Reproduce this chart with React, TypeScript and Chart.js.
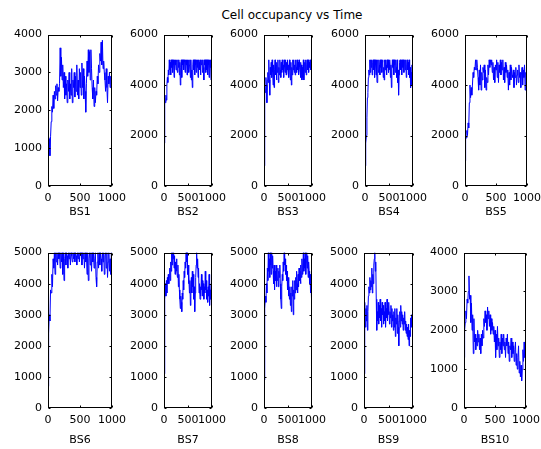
import React, { useEffect, useRef } from "react";
import { Chart, registerables } from "chart.js";

Chart.register(...registerables);

// Sample times (every 10th step of the 0..1000 simulation)
const timeSteps: number[] = Array.from({ length: 101 }, (_, i) => i * 10);

const xTicks = [0, 500, 1000];

const bs1 = [1300, 900, 1250, 800, 1300, 1700, 2100, 1950, 2400, 2050, 2500,
  2300, 2650, 2400, 2700, 2250, 2600, 2500, 2700, 3650, 2900,
  3400, 2800, 3200, 2600, 3000, 2300, 2900, 2400, 2700, 2200,
  2800, 2500, 3000, 2300, 2700, 2400, 3100, 2200, 2800, 2600,
  3000, 2350, 2900, 2500, 3200, 2400, 2800, 2300, 3100, 2600,
  3000, 2400, 3250, 2600, 3100, 2300, 2900, 2500, 1950, 2700,
  3300, 2900, 3600, 3000, 3550, 2800, 3600, 3100, 2600, 2300,
  2800, 2100, 2600, 2200, 2500, 2400, 2900, 2700, 3200, 3000,
  3500, 3300, 3800, 3200, 3850, 3100, 3300, 3000, 2800, 2500,
  3100, 2600, 2200, 2900, 2700, 3000, 2600, 2900, 2700, 3000];

const bs2 = [1700, 3300, 3500, 3300, 3600, 3400, 4000, 4300, 4100, 4600, 4400,
  5000, 4600, 4900, 4400, 5000, 4700, 5000, 4500, 5000, 4800,
  4300, 5000, 4800, 5000, 4600, 5000, 4900, 4500, 5000, 4700,
  5000, 4400, 4900, 4000, 4700, 5000, 4300, 5000, 4800, 5000,
  4600, 5000, 4900, 4500, 5000, 4800, 5000, 4400, 5000, 4700,
  5000, 4500, 4800, 5000, 4300, 5000, 4200, 4600, 3900, 4800,
  5000, 4600, 5000, 4400, 5000, 4800, 4500, 5000, 4700, 5000,
  4300, 5000, 4900, 4600, 5000, 4400, 5000, 4800, 5000, 4500,
  5000, 4700, 4200, 5000, 4800, 5000, 4500, 5000, 4600, 5000,
  4400, 5000, 4800, 4300, 5000, 4700, 5000, 4200, 4900, 4500];

const bs3 = [800, 2700, 4000, 3700, 4300, 4000, 3300, 4200, 4500, 4100, 5000,
  4200, 3600, 4700, 4400, 4900, 4300, 5000, 4500, 4000, 4800,
  3900, 4600, 5000, 4400, 4800, 4200, 4900, 4500, 5000, 4100,
  4700, 4400, 5000, 4600, 4300, 4900, 4500, 5000, 4600, 4800,
  4300, 5000, 4700, 4500, 5000, 4400, 4900, 4600, 5000, 4500,
  4800, 4300, 5000, 4600, 4200, 4900, 4000, 4700, 4400, 5000,
  4600, 5000, 4500, 4800, 4400, 5000, 4700, 4500, 5000, 4600,
  4900, 4400, 5000, 4700, 4500, 4900, 4300, 4800, 4200, 4700,
  4300, 5000, 4200, 4600, 4900, 4500, 5000, 4400, 4800, 5000,
  4600, 5000, 4500, 4900, 4700, 5000, 4600, 4900, 4800, 5000];

const bs4 = [800, 1200, 1700, 2000, 2700, 3500, 3700, 4300, 4600, 4400, 5000,
  4500, 5000, 4700, 5000, 4400, 4900, 5000, 4600, 5000, 4300,
  5000, 4800, 4400, 5000, 4100, 4700, 5000, 4500, 5000, 4800,
  4400, 5000, 4700, 5000, 4500, 4900, 5000, 4300, 4700, 4200,
  5000, 4600, 5000, 4800, 4400, 5000, 4700, 5000, 4500, 4900,
  4600, 5000, 4300, 4800, 3900, 4600, 5000, 4700, 5000, 4400,
  5000, 4800, 4500, 5000, 4700, 4300, 5000, 4100, 4600, 3600,
  4400, 4900, 5000, 4600, 5000, 4800, 4400, 5000, 4700, 5000,
  4500, 4900, 5000, 4600, 5000, 4300, 4800, 5000, 4600, 4900,
  4400, 5000, 4300, 4700, 3900, 4500, 4000, 4800, 3900, 4600];

const bs5 = [1000, 2000, 1900, 2200, 2000, 2500, 2300, 3300, 4000, 3500, 3900,
  3600, 4000, 4500, 4300, 4700, 4600, 5000, 4600, 5000, 4700,
  4300, 3800, 4600, 4000, 4800, 3800, 4500, 4200, 4700, 4500,
  4800, 3900, 4600, 3800, 4300, 4100, 4800, 4400, 5000, 4700,
  5000, 4800, 5000, 4500, 4900, 4200, 4700, 4100, 4800, 4600,
  5000, 4300, 4900, 4100, 4800, 4500, 5000, 4400, 4900, 4600,
  5000, 4200, 4700, 4100, 4900, 4500, 4800, 4300, 4600, 3800,
  4500, 4000, 4800, 4200, 4700, 4400, 4300, 4600, 3900, 4500,
  4300, 4700, 4000, 4400, 4600, 4100, 4800, 4300, 4500, 3900,
  4400, 4700, 4000, 4600, 4300, 4800, 3800, 4500, 4200, 4600];

const bs6 = [700, 2400, 3000, 2800, 3800, 3700, 4300, 3900, 4800, 4500, 5000,
  4300, 5000, 4700, 5000, 4600, 5000, 4800, 5000, 4500, 5000,
  4700, 5000, 4300, 5000, 4100, 4800, 5000, 4600, 5000, 4900,
  4500, 5000, 4800, 5000, 4600, 5000, 4900, 4700, 5000, 4800,
  5000, 4700, 5000, 4900, 4600, 5000, 4800, 5000, 4700, 5000,
  4900, 5000, 4600, 5000, 4800, 5000, 4500, 5000, 4700, 5000,
  4300, 5000, 4100, 4800, 5000, 4600, 5000, 4400, 5000, 4700,
  5000, 4500, 4800, 5000, 4200, 3900, 4700, 5000, 4500, 5000,
  4600, 5000, 4800, 4400, 5000, 4700, 5000, 4300, 4900, 5000,
  4500, 5000, 4200, 4700, 5000, 4400, 4800, 4300, 5000, 4400];

const bs7 = [1100, 2500, 3500, 4000, 3600, 4100, 3700, 4200, 4000, 4300, 4000,
  4200, 4500, 4100, 4700, 4400, 5000, 4600, 5000, 4800, 5000,
  4500, 4900, 4300, 4700, 4500, 4800, 4400, 4200, 4600, 3900,
  4300, 3800, 3500, 3200, 3600, 3400, 3100, 3700, 3500, 4100,
  3800, 4400, 4200, 4700, 4500, 5000, 4700, 5000, 4300, 4600,
  4000, 4300, 3700, 4100, 3300, 3900, 4200, 3700, 4400, 3900,
  4300, 3500, 3900, 3100, 3700, 4200, 4600, 5000, 4500, 4800,
  4200, 4500, 3700, 4000, 3500, 3900, 3600, 4300, 3800, 4100,
  3600, 4000, 3500, 3900, 3700, 4400, 3800, 4100, 3500, 3800,
  3400, 3900, 3600, 4300, 3300, 3800, 3500, 4000, 4600, 5000];

const bs8 = [900, 2000, 3200, 3600, 3400, 4000, 3700, 4500, 4100, 5000, 4400,
  4800, 4200, 5000, 4600, 4300, 5000, 4500, 4900, 4400, 4000,
  4600, 3800, 4400, 4100, 4600, 3900, 4300, 4100, 4500, 3900,
  4400, 4200, 4600, 4000, 3500, 3200, 3900, 4300, 4100, 4700,
  4400, 5000, 4600, 4800, 4300, 4600, 4100, 4400, 3800, 4200,
  3600, 4000, 3500, 3900, 3300, 3700, 3100, 3900, 3600, 4100,
  3000, 3800, 3500, 4100, 3700, 4200, 3800, 4400, 4000, 3700,
  4300, 3900, 4500, 4100, 4400, 4000, 4600, 4200, 4800, 4300,
  4600, 5000, 4400, 4800, 4500, 5000, 4300, 4700, 5000, 4500,
  4900, 4200, 4700, 4400, 4000, 4300, 3700, 4000, 3500, 3300];

const bs9 = [1100, 3000, 3400, 2600, 3200, 2800, 3300, 2500, 3100, 3600, 3900,
  3700, 4200, 3800, 4100, 3900, 4500, 3700, 4300, 4000, 4600,
  4800, 5000, 4400, 4700, 3500, 2500, 3100, 2800, 3400, 2700,
  3300, 2900, 3500, 2800, 3200, 2600, 3400, 3000, 3300, 2700,
  3100, 2800, 3400, 2600, 3200, 2900, 3500, 2800, 3300, 3000,
  3400, 2700, 3100, 2900, 3300, 2600, 3200, 2800, 3000, 2500,
  3100, 2600, 3200, 2300, 2900, 2700, 3200, 2400, 3000, 2600,
  2000, 2800, 3100, 2600, 3300, 2800, 3100, 2700, 3000, 2500,
  2900, 2700, 3100, 2500, 2800, 2400, 2700, 2300, 2600, 2200,
  2700, 2000, 2500, 2300, 2900, 2600, 3000, 2700, 3200, 2800];

const bs10 = [1300, 2000, 2200, 2500, 2300, 2800, 2700, 3000, 3400, 2800, 2900,
  2200, 2700, 2000, 2400, 1400, 2300, 1700, 1900, 1500, 1800,
  1600, 2000, 1700, 1900, 1500, 1800, 1400, 1900, 1600, 2000,
  1800, 2300, 2100, 2500, 2200, 2400, 2000, 2600, 2300, 2500,
  2100, 2400, 1900, 2300, 2000, 2200, 1900, 2100, 1700, 2000,
  1300, 1900, 1500, 2100, 1600, 1800, 1300, 1700, 1500, 1900,
  1400, 1800, 1600, 1900, 1500, 1700, 1300, 1800, 1600, 1900,
  1400, 1700, 1200, 1600, 1500, 1800, 1300, 1700, 1400, 1600,
  1200, 1500, 1700, 1100, 1400, 1000, 1300, 1600, 900, 1200,
  800, 1100, 700, 1000, 1500, 1200, 1700, 1300, 1600, 2000];

const stationNames = ["BS1", "BS2", "BS3", "BS4", "BS5", "BS6", "BS7", "BS8", "BS9", "BS10"];
const stationSeries = [bs1, bs2, bs3, bs4, bs5, bs6, bs7, bs8, bs9, bs10];
const yMaxes = [4000, 6000, 6000, 6000, 6000, 5000, 5000, 5000, 5000, 4000];
const ySteps = [1000, 2000, 2000, 2000, 2000, 1000, 1000, 1000, 1000, 1000];

const titleText = "Cell occupancy vs Time";

// Layout (plot boxes in page pixels): [left, top, right, bottom]
const boxes: [number, number, number, number][] = [
  [48, 32, 112, 186], [164, 32, 212, 186], [264, 32, 312, 186], [365, 32, 413, 186], [465, 32, 527, 186],
  [48, 250, 112, 408], [164, 250, 212, 408], [264, 250, 312, 408], [364, 250, 413, 408], [464, 250, 526, 408],
];
const labelPadBottom = [12, 12, 12, 12, 12, 6.5, 6.5, 6.5, 6.5, 6.5];

const Y_W = 46;
const PAD_T = 10;
const PAD_R = 20;
const X_H = 45;
const FONT = "'DejaVu Sans', sans-serif";

const matlabBox = {
  id: "matlabBox",
  afterDatasetsDraw(chart: any) {
    const { ctx, chartArea: a, scales } = chart;
    ctx.save();
    ctx.strokeStyle = "#000";
    ctx.lineWidth = 1;
    const l = Math.round(a.left) + 0.5;
    const r = Math.round(a.right) - 0.5;
    const t = Math.round(a.top) + 0.5;
    const b = Math.round(a.bottom) - 0.5;
    ctx.strokeRect(l, t, r - l, b - t);
    const tl = 2;
    ctx.beginPath();
    scales.x.ticks.forEach((tk: any) => {
      const px = Math.round(scales.x.getPixelForValue(tk.value)) + 0.5;
      ctx.moveTo(px, b); ctx.lineTo(px, b - tl);
      ctx.moveTo(px, t); ctx.lineTo(px, t + tl);
    });
    scales.y.ticks.forEach((tk: any) => {
      const py = Math.round(scales.y.getPixelForValue(tk.value)) + 0.5;
      ctx.moveTo(l, py); ctx.lineTo(l + tl, py);
      ctx.moveTo(r, py); ctx.lineTo(r - tl, py);
    });
    ctx.stroke();
    ctx.restore();
  },
};

function Subplot({ idx }: { idx: number }) {
  const ref = useRef<HTMLCanvasElement | null>(null);
  const [L, T, R, B] = boxes[idx];
  const w = R - L + Y_W + PAD_R;
  const h = B - T + PAD_T + X_H;
  useEffect(() => {
    if (!ref.current) return;
    const vals = stationSeries[idx];
    const chart = new Chart(ref.current, {
      type: "line",
      data: {
        datasets: [
          {
            data: timeSteps.map((t, i) => ({ x: t, y: vals[i] })),
            borderColor: "#0000ff",
            borderWidth: 1,
            pointRadius: 0,
            tension: 0,
            fill: false,
          },
        ],
      },
      options: {
        responsive: false,
        animation: false,
        devicePixelRatio: 1,
        layout: { padding: { left: 0, top: PAD_T, right: PAD_R, bottom: 0 } },
        plugins: { legend: { display: false }, tooltip: { enabled: false }, title: { display: false } },
        scales: {
          x: {
            type: "linear",
            min: 0,
            max: 1000,
            afterBuildTicks: (s: any) => { s.ticks = xTicks.map((v) => ({ value: v })); },
            afterFit: (s: any) => { s.height = X_H; },
            ticks: {
              autoSkip: false,
              maxRotation: 0,
              minRotation: 0,
              padding: 5.5,
              color: "#000",
              font: { family: FONT, size: 11 },
              callback: (v: any) => String(v),
            },
            grid: { display: false, drawTicks: false },
            border: { display: false },
            title: {
              display: true,
              text: stationNames[idx],
              color: "#000",
              font: { family: FONT, size: 11 },
              padding: { top: 0, bottom: labelPadBottom[idx] },
            },
          },
          y: {
            type: "linear",
            min: 0,
            max: yMaxes[idx],
            afterFit: (s: any) => { s.width = Y_W; },
            ticks: {
              stepSize: ySteps[idx],
              padding: 6,
              color: "#000",
              font: { family: FONT, size: 11 },
              callback: (v: any) => String(v),
            },
            grid: { display: false, drawTicks: false },
            border: { display: false },
          },
        },
      } as any,
      plugins: [matlabBox],
    });
    return () => chart.destroy();
  }, [idx]);
  return (
    <canvas
      ref={ref}
      width={w}
      height={h}
      style={{ position: "absolute", left: L - Y_W, top: T - PAD_T, width: w, height: h }}
    />
  );
}

export default function App() {
  return (
    <div style={{ position: "fixed", left: 0, top: 0, width: 541, height: 449, background: "#fff", overflow: "hidden" }}>
      <div
        style={{
          position: "absolute",
          left: 142,
          top: 8,
          width: 300,
          textAlign: "center",
          fontFamily: FONT,
          fontSize: 12,
          lineHeight: "14px",
          color: "#000",
        }}
      >
        {titleText}
      </div>
      {stationNames.map((_, i) => (
        <Subplot key={i} idx={i} />
      ))}
    </div>
  );
}
